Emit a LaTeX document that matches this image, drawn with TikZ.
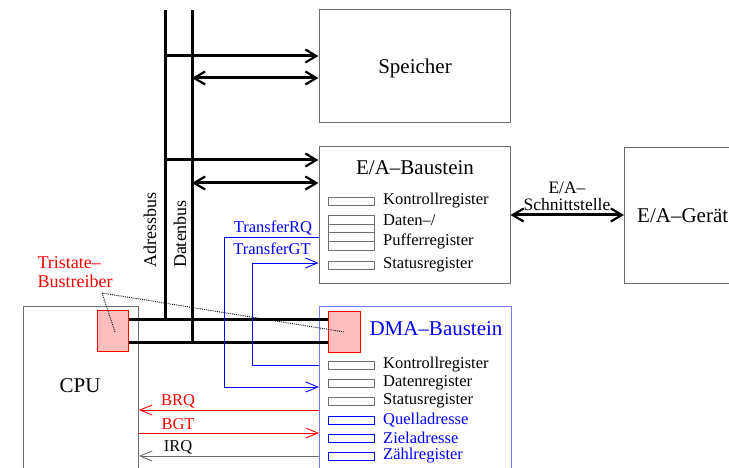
\documentclass[tikz,border=0pt]{standalone}
\usepackage{fontspec}
\setmainfont{Liberation Serif}
\usetikzlibrary{arrows.meta}
\definecolor{boxgray}{RGB}{110,110,110}
\definecolor{dmablue}{RGB}{120,120,255}
\definecolor{tsfill}{RGB}{255,190,190}
\tikzset{
  box/.style={draw=boxgray,line width=1pt,rectangle,inner sep=0pt},
  title/.style={font=\fontsize{21}{24}\selectfont,inner sep=0pt},
  lbl/.style={font=\fontsize{16.5}{20}\selectfont,inner sep=0pt},
  buslbl/.style={font=\fontsize{18}{21}\selectfont,inner sep=0pt},
  reg/.style={draw=boxgray,line width=0.9pt,rectangle,minimum width=46pt,minimum height=8pt,inner sep=0pt},
  bus/.style={line width=3pt},
  busarrow/.style={line width=3pt,-{Straight Barb[length=11pt,width=13pt,line width=2.2pt]}},
  busdarrow/.style={line width=3pt,{Straight Barb[length=11pt,width=13pt,line width=2.2pt]}-{Straight Barb[length=11pt,width=13pt,line width=2.2pt]}},
  sig/.style={line width=1pt,-{Straight Barb[length=12pt,width=10pt,line width=0.9pt]}},
  tsbox/.style={draw=red,fill=tsfill,line width=1pt,rectangle,inner sep=0pt},
}
\begin{document}
\begin{tikzpicture}[x=1pt,y=-1pt]
\clip (0,0) rectangle (729,468);
\fill[white] (0,0) rectangle (729,468);

% boxes
\node[box,minimum width=191pt,minimum height=113pt] (speicher) at (414.5,66.5) {};
\node[title] at (415,68) {Speicher};
\node[box,minimum width=191pt,minimum height=136pt] (eab) at (414.5,215) {};
\node[title] (eabt) at (415,168) {E/A–Baustein};
\node[box,minimum width=150pt,minimum height=136pt,anchor=north west] (gerat) at (624,147) {};
\node[title,anchor=west] at (637,216) {E/A–Gerät};
\node[box,minimum width=115pt,minimum height=190pt,anchor=north west] (cpu) at (23,306) {};
\node[title] at (80,386) {CPU};
\node[box,draw=dmablue,minimum width=192pt,minimum height=190pt,anchor=north west] (dma) at (319,306) {};
\node[title,text=blue] at (436,329) {DMA–Baustein};

% tristate drivers
\node[tsbox,minimum width=31pt,minimum height=41pt,anchor=north west] (cputs) at (97,310) {};
\node[tsbox,minimum width=32pt,minimum height=41pt,anchor=north west] (dmats) at (328,311) {};

% E/A registers
\node[reg] (ek) at (351,201) {};
\node[lbl,anchor=west] at (383,201) {Kontrollregister};
\node[reg,minimum height=8.75pt,anchor=north] (ed1) at (351,215) {};
\node[reg,minimum height=8.75pt,anchor=north] (ed2) at (351,223.75) {};
\node[reg,minimum height=8.75pt,anchor=north] (ed3) at (351,232.5) {};
\node[reg,minimum height=8.75pt,anchor=north] (ed4) at (351,241.25) {};
\node[lbl,anchor=west,align=left] at (383,232) {Daten–/\\Pufferregister};
\node[reg] (es) at (351,265) {};
\node[lbl,anchor=west] at (383,265) {Statusregister};

% DMA registers
\node[reg] (dk) at (351,365) {};
\node[lbl,anchor=west] at (383,365) {Kontrollregister};
\node[reg] (dd) at (351,383) {};
\node[lbl,anchor=west] at (383,383) {Datenregister};
\node[reg] (ds) at (351,401) {};
\node[lbl,anchor=west] at (383,401) {Statusregister};
\node[reg,draw=blue] (dq) at (351,420) {};
\node[lbl,anchor=west,text=blue] at (383,420) {Quelladresse};
\node[reg,draw=blue] (dz) at (351,438) {};
\node[lbl,anchor=west,text=blue] at (383,438) {Zieladresse};
\node[reg,draw=blue] (dzr) at (351,456) {};
\node[lbl,anchor=west,text=blue] at (383,456) {Zählregister};

% buses
\coordinate (adrtop) at (165,10);
\coordinate (adrbot) at (165,319);
\coordinate (dattop) at (192,10);
\coordinate (datbot) at (192,342);
\draw[bus] (adrtop) -- (adrbot);
\draw[bus] (dattop) -- (datbot);
\draw[bus] (cputs.east |- adrbot) -- (dmats.west |- adrbot);
\draw[bus] (cputs.east |- datbot) -- (dmats.west |- datbot);
\node[buslbl,rotate=90] at (150,230) {Adressbus};
\node[buslbl,rotate=90] at (180,234) {Datenbus};

\coordinate (ya) at (0,56);
\coordinate (yb) at (0,78);
\coordinate (yc) at (0,160);
\coordinate (yd) at (0,183);
\draw[busarrow] (adrtop |- ya) -- (speicher.west |- ya);
\draw[busdarrow] (dattop |- yb) -- (speicher.west |- yb);
\draw[busarrow] (adrtop |- yc) -- (eab.west |- yc);
\draw[busdarrow] (dattop |- yd) -- (eab.west |- yd);

% E/A interface
\coordinate (ye) at (0,215);
\draw[busdarrow] (eab.east |- ye) -- (gerat.west |- ye);
\node[font=\fontsize{17.5}{17}\selectfont,align=center,inner sep=0pt] at (567,196) {E/A–\\Schnittstelle};

% transfer signals
\coordinate (yrq) at (0,238);
\coordinate (yrq2) at (0,387);
\coordinate (xrq) at (224,0);
\coordinate (ygt) at (0,263);
\coordinate (ygt2) at (0,365);
\coordinate (xgt) at (252,0);
\draw[sig,blue] (eab.west |- yrq) -- (xrq |- yrq) -- (xrq |- yrq2) -- (dma.west |- yrq2);
\draw[sig,blue] (dma.west |- ygt2) -- (xgt |- ygt2) -- (xgt |- ygt) -- (eab.west |- ygt);
\node[lbl,text=blue] at (273,228) {TransferRQ};
\node[lbl,text=blue] at (272,249) {TransferGT};

% bus request signals
\coordinate (ybrq) at (0,410);
\coordinate (ybgt) at (0,433);
\coordinate (yirq) at (0,456);
\draw[sig,red] (dma.west |- ybrq) -- (cpu.east |- ybrq);
\draw[sig,red] (cpu.east |- ybgt) -- (dma.west |- ybgt);
\draw[sig,boxgray] (dma.west |- yirq) -- (cpu.east |- yirq);
\node[lbl,text=red] at (178,401) {BRQ};
\node[lbl,text=red] at (178,424) {BGT};
\node[lbl] at (178,447) {IRQ};

% tristate label
\node[text=red,align=left,inner sep=0pt,font=\fontsize{18}{19}\selectfont] (tslbl) at (75,272) {Tristate–\\Bustreiber};
\coordinate (tsp) at (102,293);
\coordinate (tsa) at (115,332);
\draw[densely dotted,line width=0.9pt] (tsa) -- (tsp) -- (dmats.center);
\end{tikzpicture}
\end{document}
